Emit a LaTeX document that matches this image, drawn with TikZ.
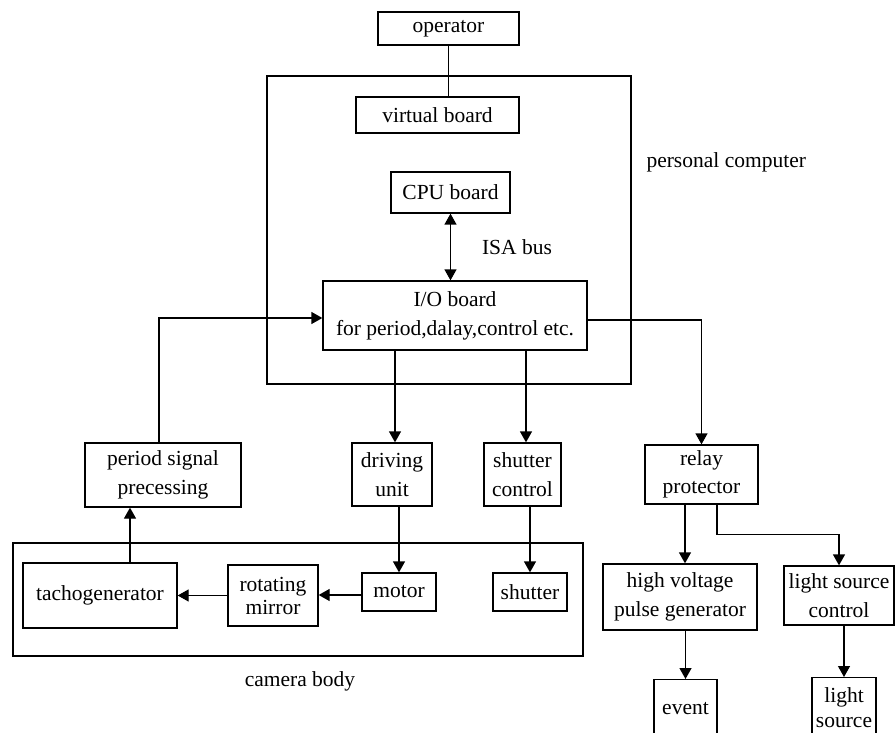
\documentclass[tikz,border=0pt]{standalone}
\usepackage{fontspec}
\setmainfont{Liberation Serif}
\usetikzlibrary{arrows.meta, positioning}
\tikzset{
  blk/.style={draw, line width=1.3pt, inner sep=0pt, align=center},
  link/.style={line width=1.3pt},
  flow/.style={line width=1.3pt, -{Triangle[length=11pt,width=12pt]}},
  busflow/.style={line width=1.3pt, {Triangle[length=11pt,width=12pt]}-{Triangle[length=11pt,width=12pt]}}
}

\begin{document}
\begin{tikzpicture}[x=1pt, y=-1pt, font=\fontsize{21.5}{29}\selectfont]
  \useasboundingbox (0,0) rectangle (895,733);
  \clip (0,0) rectangle (895,733);

  % Enclosures
  \draw[link] (267,76) rectangle (631,384);
  \draw[link] (13,543) rectangle (583,656);
  \node[anchor=west] (pclabel) at (643,162) {personal computer};
  \node (camlabel) at (300,681) {camera body};

  % Personal computer
  \node[blk, minimum width=141pt, minimum height=33pt] (operator) at (448.5,28.5) {operator};
  \node[blk, minimum width=163pt, minimum height=36pt] (virtual) at (437.5,115) {virtual board};
  \node[blk, minimum width=119pt, minimum height=41pt] (cpu) at (450.5,192.5) {CPU board};
  \node[blk, minimum width=264pt, minimum height=69pt] (io) at (455,315.5) {I/O board\\for period,dalay,control etc.};
  \node (isa) at (517,247) {ISA bus};

  % Boards outside
  \node[blk, minimum width=156pt, minimum height=64pt] (period) at (163,475) {period signal\\precessing};
  \node[blk, minimum width=80pt, minimum height=63pt] (driving) at (392,474.5) {driving\\unit};
  \node[blk, minimum width=77pt, minimum height=63pt] (shutctl) at (522.5,474.5) {shutter\\control};
  \node[blk, minimum width=113pt, minimum height=59pt, font=\fontsize{21.5}{28}\selectfont] (relay) at (701.5,474.5) {relay\\protector};

  % Camera body
  \node[blk, minimum width=154pt, minimum height=65pt] (tacho) at (100,595.5) {tachogenerator};
  \node[blk, minimum width=90pt, minimum height=61pt, font=\fontsize{21.5}{23}\selectfont] (mirror) at (273,595.5) {rotating\\mirror};
  \node[blk, minimum width=74pt, minimum height=38pt] (motor) at (399,592) {motor};
  \node[blk, minimum width=74pt, minimum height=38pt] (shutter) at (530,592) {shutter};

  % Relay branch
  \node[blk, minimum width=154pt, minimum height=66pt] (hvpulse) at (680,597) {high voltage\\pulse generator};
  \node[blk, minimum width=110pt, minimum height=59pt] (lsctl) at (839,595.5) {light source\\control};
  \node[blk, anchor=north, minimum width=63pt, minimum height=57pt] (event) at (685.5,679) {event};
  \node[blk, anchor=north, minimum width=64pt, minimum height=59pt, font=\fontsize{21.5}{25}\selectfont] (lsrc) at (844,677) {light\\source};

  % Connections
  \draw[link] (operator.south) -- (operator.south |- virtual.north);
  \draw[busflow] (cpu.south) -- (cpu.south |- io.north);
  \draw[flow] ([xshift=-4pt]period.north) |- ([yshift=-2.5pt]io.west);
  \draw[flow] ([xshift=3pt]driving.north |- io.south) -- ([xshift=3pt]driving.north);
  \draw[flow] ([xshift=3.5pt]shutctl.north |- io.south) -- ([xshift=3.5pt]shutctl.north);
  \draw[flow] ([yshift=-4.5pt]io.east) -| (relay.north);
  \draw[flow] ([xshift=5pt]hvpulse.north |- relay.south) -- ([xshift=5pt]hvpulse.north);
  \draw[flow] ([xshift=15.5pt]relay.south) -- ++(0,30) -| (lsctl.north);
  \draw[flow] (event.north |- hvpulse.south) -- (event.north);
  \draw[flow] (lsrc.north |- lsctl.south) -- (lsrc.north);
  \draw[flow] (motor.north |- driving.south) -- (motor.north);
  \draw[flow] (shutter.north |- shutctl.south) -- (shutter.north);
  \draw[flow] ([yshift=-3pt]motor.west) -- ([yshift=-3pt]motor.west -| mirror.east);
  \draw[flow] (mirror.west) -- (mirror.west -| tacho.east);
  \draw[flow] ([xshift=30pt]tacho.north) -- ([xshift=30pt]tacho.north |- period.south);
\end{tikzpicture}
\end{document}
